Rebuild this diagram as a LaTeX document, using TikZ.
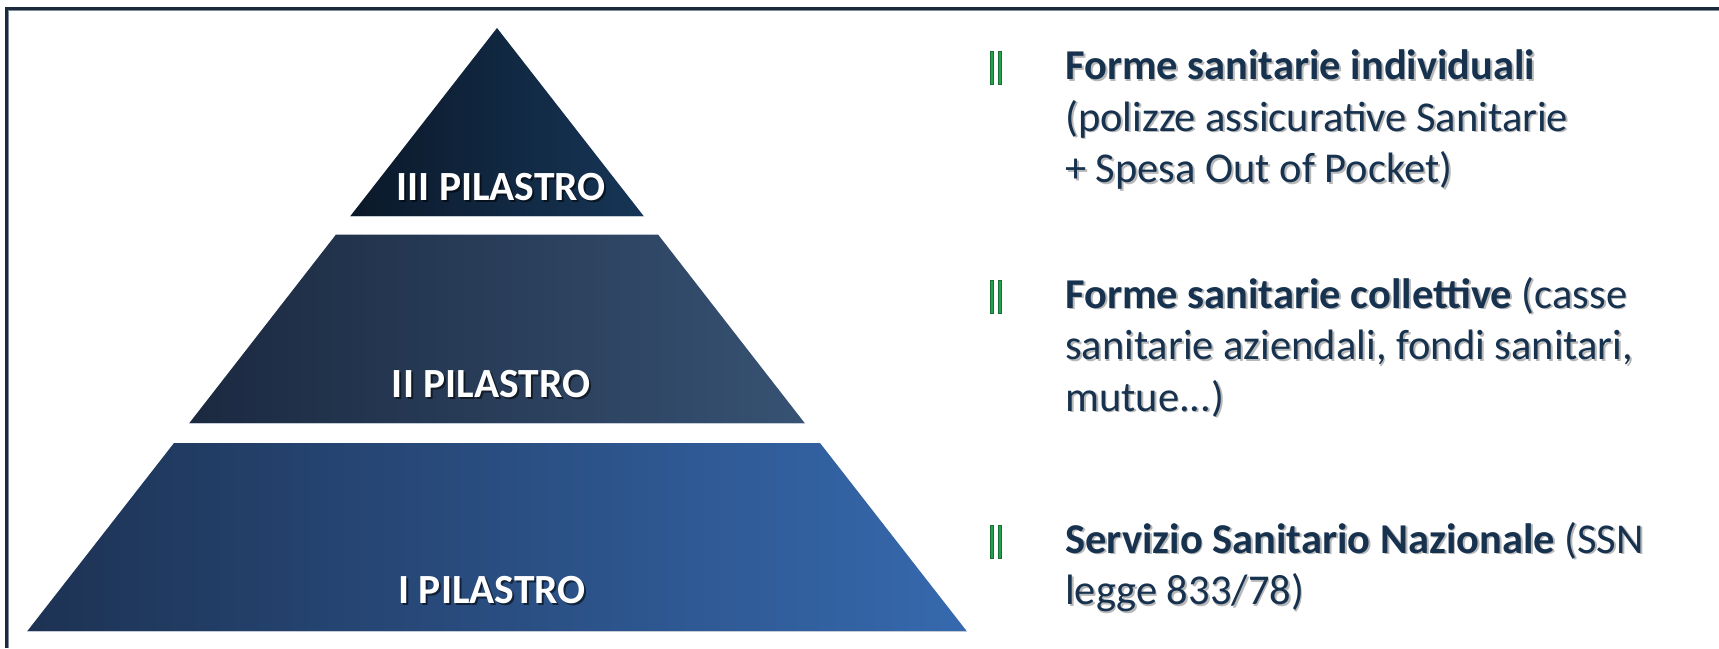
\documentclass[tikz,border=0pt]{standalone}
\usepackage{fontspec}
\setmainfont{Carlito}
\usetikzlibrary{calc}

% palette
\definecolor{frameline}{HTML}{1D2A3C}
\definecolor{frameinner}{HTML}{7E8CA0}
\definecolor{topL}{HTML}{0B1829}
\definecolor{topR}{HTML}{163657}
\definecolor{midL}{HTML}{1B2940}
\definecolor{midR}{HTML}{375273}
\definecolor{botL}{HTML}{1D3253}
\definecolor{botR}{HTML}{3669AE}
\definecolor{edge}{HTML}{C3CBD6}
\definecolor{ink}{HTML}{17324F}
\definecolor{mark}{HTML}{22A24A}

\tikzset{
  layer/.style={draw=none},
  layeredge/.style={draw=edge, line width=1.2pt},
  lbl/.style={anchor=base, inner sep=0pt, text=white,
    font=\bfseries\fontsize{41.5}{50}\selectfont},
  lblshadow/.style={lbl, text=black, opacity=0.55},
  txt/.style={anchor=base west, inner sep=0pt, text=ink,
    font=\fontsize{42.5}{51.5}\selectfont},
  txtshadow/.style={txt, text=black, opacity=0.28},
  bar/.style={fill=mark, draw=mark!70!black, line width=0.4pt},
}

% a line of text with a soft drop shadow behind it
\newcommand\shadedline[3]{%
  \node[txtshadow, xshift=1.8pt, yshift=-1.8pt] (#1s) at (#2) {#3};
  \node[txt] (#1) at (#2) {#3};}
\newcommand\layerlabel[3]{%
  \node[lblshadow, xshift=2pt, yshift=-2pt] (#1s) at (#2) {#3};
  \node[lbl] (#1) at (#2) {#3};}
% double green bar marker
\newcommand\barmark[2]{%
  \fill[bar] (990,#1-28) rectangle (993.2,#1+5);
  \fill[bar] (997.8,#1-28) rectangle (1001,#1+5);
  \coordinate (#2) at (995.5,#1);}

\begin{document}
\begin{tikzpicture}[x=1pt,y=-1pt]
\useasboundingbox (0,0) rectangle (1719,648);
\fill[white] (0,0) rectangle (1719,648);

% frame, open towards the right and bottom
\draw[frameinner, line width=1pt] (8.3,648) -- (8.3,10) -- (1719,10);
\draw[frameline, line width=2.6pt] (6.2,648) -- (6.2,8.2) -- (1719,8.2);

% pyramid layers
\coordinate (apex) at (497,28);
\coordinate (t1) at (350,216.5);  \coordinate (t2) at (644,216.5);
\coordinate (m1) at (336,234.5);  \coordinate (m2) at (658,234.5);
\coordinate (m3) at (805,423.5);  \coordinate (m4) at (189,423.5);
\coordinate (b1) at (174,443);    \coordinate (b2) at (820,443);
\coordinate (b3) at (967,631.5);  \coordinate (b4) at (27,631.5);

\path[layer, left color=topL, right color=topR] (t1) -- (apex) -- (t2) -- cycle;
\path[layer, left color=midL, right color=midR] (m1) -- (m2) -- (m3) -- (m4) -- cycle;
\path[layer, left color=botL, right color=botR] (b1) -- (b2) -- (b3) -- (b4) -- cycle;
\draw[layeredge] (t1) -- (t2);
\draw[layeredge] (m4) -- (m3);
\draw[layeredge] (b4) -- (b3);

\layerlabel{l3}{501,200.5}{III PILASTRO}
\layerlabel{l2}{491,397}{II PILASTRO}
\layerlabel{l1}{492,603}{I PILASTRO}

% descriptions
\barmark{79.5}{k1}
\shadedline{a1}{1065,79.5}{\textbf{Forme sanitarie individuali}}
\shadedline{a2}{1065,131}{(polizze assicurative Sanitarie}
\shadedline{a3}{1065,182.5}{+ Spesa Out of Pocket)}

\barmark{308}{k2}
\shadedline{b1}{1065,308}{\textbf{Forme sanitarie collettive} (casse}
\shadedline{b2}{1065,359.5}{sanitarie aziendali, fondi sanitari,}
\shadedline{b3}{1065,411}{mutue...)}

\barmark{553}{k3}
\shadedline{c1}{1065,553}{\textbf{Servizio Sanitario Nazionale} (SSN}
\shadedline{c2}{1065,604.5}{legge 833/78)}
\end{tikzpicture}
\end{document}
